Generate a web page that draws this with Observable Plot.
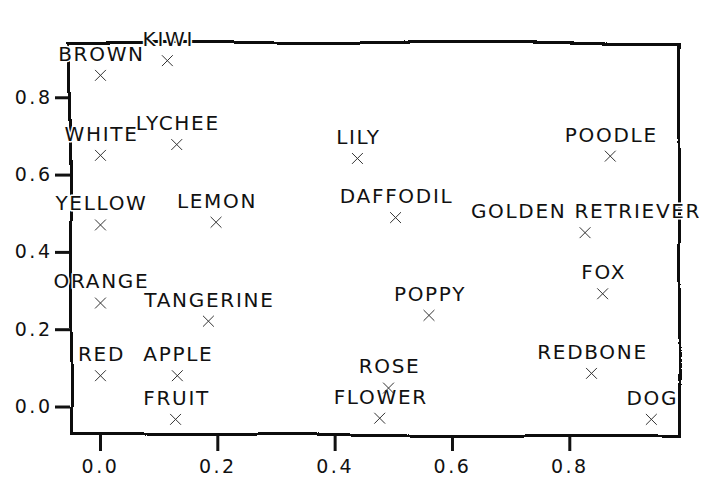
<!DOCTYPE html>
<html>
<head>
<meta charset="utf-8">
<script src="https://cdn.jsdelivr.net/npm/d3@7"></script>
<script src="https://cdn.jsdelivr.net/npm/@observablehq/plot@0.6"></script>
<style>
  html, body { margin: 0; padding: 0; background: #fff; }
  #chart svg { display: block; overflow: visible; }
  #chart g[aria-label="text"] text { letter-spacing: 1.7px; }
  #chart g[aria-label="x-axis tick label"] text,
  #chart g[aria-label="y-axis tick label"] text { letter-spacing: 2.5px; }
</style>
</head>
<body>
<div id="chart"></div>
<script>
const labels = ["BROWN","KIWI","WHITE","LYCHEE","LILY","POODLE","YELLOW","LEMON","DAFFODIL","GOLDEN RETRIEVER","ORANGE","FOX","TANGERINE","POPPY","RED","APPLE","ROSE","REDBONE","FRUIT","FLOWER","DOG"];
const xs = [0.000, 0.114, 0.000, 0.130, 0.438, 0.869, 0.000, 0.197, 0.503, 0.826, 0.000, 0.856, 0.184, 0.560, 0.000, 0.131, 0.491, 0.837, 0.128, 0.476, 0.939];
const ys = [0.858, 0.896, 0.651, 0.679, 0.643, 0.649, 0.471, 0.478, 0.490, 0.451, 0.269, 0.293, 0.222, 0.237, 0.081, 0.081, 0.049, 0.087, -0.032, -0.029, -0.032];
const xTicks = [0.0, 0.2, 0.4, 0.6, 0.8];
const yTicks = [0.0, 0.2, 0.4, 0.6, 0.8];

const data = labels.map((t, i) => ({label: t, x: xs[i], y: ys[i]}));
const fmt = d3.format(".1f");

const chart = Plot.plot({
  width: 719,
  height: 478,
  marginLeft: 70,
  marginRight: 39,
  marginTop: 42,
  marginBottom: 43,
  style: {fontFamily: "DejaVu Sans", color: "#111", background: "#fff"},
  x: {domain: [-0.0511, 0.9887]},
  y: {domain: [-0.0737, 0.943]},
  marks: [
    Plot.axisX({ticks: xTicks, tickFormat: fmt, tickSize: 16, tickPadding: 8, fontSize: 19, strokeWidth: 3, label: null}),
    Plot.axisY({ticks: yTicks, tickFormat: fmt, tickSize: 15, tickPadding: 3, fontSize: 19, strokeWidth: 3, label: null}),
    Plot.frame({stroke: "#111", strokeWidth: 3}),
    Plot.text(data, {x: "x", y: "y", text: "label", dy: -21, dx: 1, fontSize: 20, fill: "#111", stroke: "white", strokeWidth: 3}),
    Plot.dot(data, {x: "x", y: "y", symbol: "times", r: 5, stroke: "#333", strokeWidth: 1})
  ]
});

// hand-drawn wobble filter on the frame
const svg = d3.select(chart);
const defs = svg.insert("defs", ":first-child");
const f = defs.append("filter").attr("id", "wobble")
  .attr("filterUnits", "userSpaceOnUse")
  .attr("x", 0).attr("y", 0).attr("width", 719).attr("height", 478);
f.append("feTurbulence").attr("type", "fractalNoise").attr("baseFrequency", "0.008").attr("numOctaves", 1).attr("seed", 5).attr("result", "n");
f.append("feDisplacementMap").attr("in", "SourceGraphic").attr("in2", "n").attr("scale", 9).attr("xChannelSelector", "R").attr("yChannelSelector", "G");
svg.selectAll("[aria-label='frame']").attr("filter", "url(#wobble)");

document.getElementById("chart").appendChild(chart);
</script>
</body>
</html>
